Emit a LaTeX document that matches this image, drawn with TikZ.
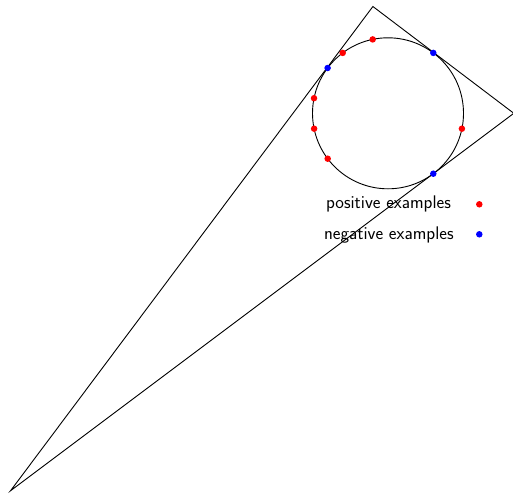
\documentclass[tikz,border=0pt]{standalone}
\begin{document}
\begin{tikzpicture}[x=1pt,y=-1pt,
  posdot/.style={circle,fill=red,inner sep=0pt,minimum size=6.5pt},
  negdot/.style={circle,fill=blue,inner sep=0pt,minimum size=6.5pt},
  lbl/.style={font=\sffamily\fontsize{18.3}{22}\selectfont,inner sep=0pt},
  edge line/.style={black,line width=0.9pt}]
\useasboundingbox (0,0) rectangle (513,493);
% triangle vertices
\coordinate (A) at (372.9,6.5);
\coordinate (B) at (513.8,113.3);
\coordinate (D) at (10.5,490.8);
\coordinate (C) at (388,113.3);
\draw[edge line] (A) -- (B) -- (D) -- cycle;
\draw[edge line] (C) circle (75.5);
% examples on the circle
\node[posdot] (p1) at (372.7,39.4) {};
\node[posdot] (p2) at (342.7,52.9) {};
\node[posdot] (p3) at (314.0,98.2) {};
\node[posdot] (p4) at (314.1,128.7) {};
\node[posdot] (p5) at (327.7,158.7) {};
\node[posdot] (p6) at (461.9,128.7) {};
\node[negdot] (n1) at (327.6,68.0) {};
\node[negdot] (n2) at (433.3,52.9) {};
\node[negdot] (n3) at (433.3,173.7) {};
% legend
\node[lbl] (lp) at (388.5,204) {positive examples};
\node[posdot] (lpd) at (479.3,204.3) {};
\node[lbl] (ln) at (388.8,235) {negative examples};
\node[negdot] (lnd) at (479.3,234.3) {};
\end{tikzpicture}
\end{document}
